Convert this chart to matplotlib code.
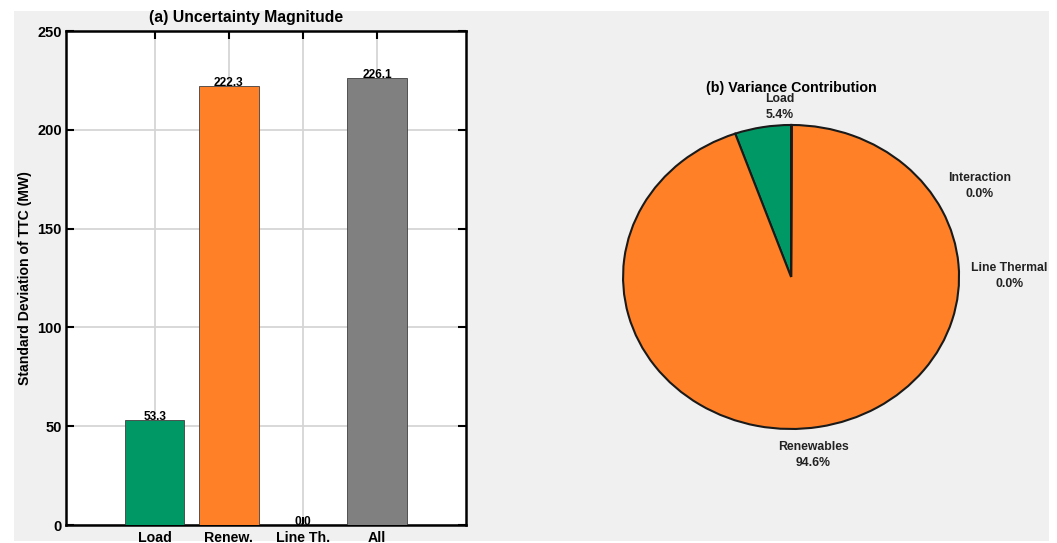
import matplotlib
matplotlib.use("Agg")
import matplotlib.pyplot as plt
from matplotlib.patches import Rectangle

plt.rcParams['font.family'] = ['Liberation Sans', 'DejaVu Sans']
plt.rcParams['font.weight'] = 'bold'

# ---- data ----
bar_categories = ["Load", "Renew.", "Line Th.", "All"]
bar_values = [53.3, 222.3, 0.0, 226.1]
bar_colors = ["#009966", "#ff8026", "#0072bd", "#808080"]
y_ticks = [0, 50, 100, 150, 200, 250]

pie_labels = ["Load", "Renewables", "Line Thermal", "Interaction"]
pie_values = [5.4, 94.6, 0.0, 0.0]
pie_draw_values = [5.4, 94.6, 0.0, 0.05]   # tiny sliver visible in reference
pie_colors = ["#009966", "#ff8026", "#0072bd", "#3d3d8f"]

fig = plt.figure(figsize=(10.57, 5.43), dpi=100)
fig.patch.set_facecolor("white")
fig.patches.append(Rectangle((0.01325, 0.0037), 0.9792, 0.976,
                             transform=fig.transFigure, facecolor="#f0f0f0",
                             edgecolor="none", zorder=-10))

# ---- (a) bars ----
ax = fig.add_axes([0.0624, 0.0331, 0.3784, 0.9098])
x = list(range(1, len(bar_categories) + 1))
ax.bar(x, bar_values, width=0.8, color=bar_colors, edgecolor="#404040",
       linewidth=0.6, zorder=3)
for xi, v in zip(x, bar_values):
    ax.text(xi, v - 1.5, f"{v:.1f}", ha="center", va="bottom",
            fontsize=8.6, fontweight="bold", zorder=4)
ax.set_xlim(-0.2, 5.2)
ax.set_ylim(0, 250)
ax.set_xticks(x)
ax.set_xticklabels(bar_categories, fontsize=10.2, fontweight="bold")
ax.set_yticks(y_ticks)
ax.set_yticklabels([str(t) for t in y_ticks], fontsize=10.5, fontweight="bold")
ax.tick_params(direction="in", length=6, width=1.5, top=True, right=True)
ax.tick_params(axis="x", pad=4.5)
ax.tick_params(axis="y", pad=3)
ax.grid(True, color="#d5d5d5", linewidth=1.3, zorder=0)
ax.set_axisbelow(True)
for s in ax.spines.values():
    s.set_linewidth(1.8)
ax.set_ylabel("Standard Deviation of TTC (MW)", fontsize=10.1, fontweight="bold",
              labelpad=4)
ax.text(0.45, 1.027, "(a) Uncertainty Magnitude", transform=ax.transAxes,
        ha="center", va="center", fontsize=11.3, fontweight="bold")

# ---- (b) pie ----
pax = fig.add_axes([0.51, 0.07, 0.4768, 0.8398])
pax.pie(pie_draw_values, colors=pie_colors, startangle=90, counterclock=True,
        wedgeprops=dict(edgecolor="#1a1a1a", linewidth=1.5))
pax.set_aspect("auto")
pax.set_xlim(-1.5, 1.5)
pax.set_ylim(-1.5, 1.5)
pax.axis("off")

label_pos = {"Load": (-0.065, 1.118), "Renewables": (0.131, -1.171),
             "Line Thermal": (1.30, 0.007), "Interaction": (1.125, 0.599)}
for lab, v in zip(pie_labels, pie_values):
    px, py = label_pos[lab]
    pax.text(px, py, f"{lab}\n{v:.1f}%", ha="center", va="center",
             fontsize=8.8, fontweight="bold", color="#222222", linespacing=1.4)
pax.text(0, 1.243, "(b) Variance Contribution", ha="center", va="center",
         fontsize=10.3, fontweight="bold")

fig.savefig("out.png", dpi=100, facecolor=fig.get_facecolor())
